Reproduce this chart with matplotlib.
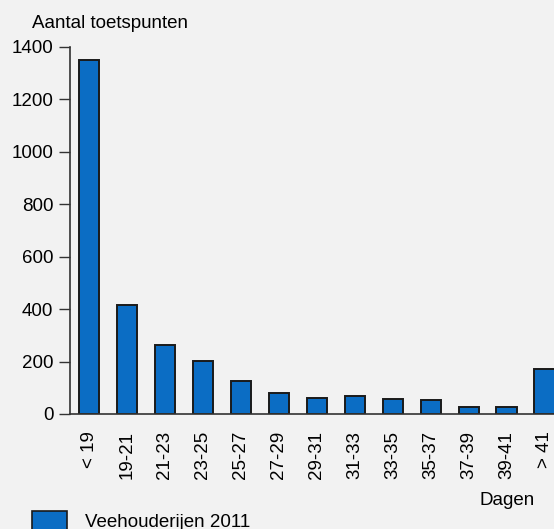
import matplotlib
matplotlib.use("Agg")
import matplotlib.pyplot as plt
from matplotlib.patches import Rectangle

categories = ["< 19", "19-21", "21-23", "23-25", "25-27", "27-29", "29-31",
              "31-33", "33-35", "35-37", "37-39", "39-41", "> 41"]
aantal = [1350, 415, 265, 203, 127, 81, 60, 70, 56, 53, 28, 26, 172]
y_ticks = [0, 200, 400, 600, 800, 1000, 1200, 1400]

plt.rcParams["font.family"] = ["Liberation Sans", "DejaVu Sans"]
bg = "#f2f2f2"
blauw = "#0b6dc4"
fs = 13.5

fig = plt.figure(figsize=(5.54, 5.29), dpi=100, facecolor=bg)
ax = fig.add_axes([0.1264, 0.2174, 0.8736, 0.6938], facecolor=bg)

x = range(len(categories))
ax.bar(x, aantal, width=0.53, color=blauw, edgecolor="#1a1a1a", linewidth=1.4, zorder=2)

ax.set_xlim(-0.5, 12.25)
ax.set_ylim(0, 1400)
ax.set_yticks(y_ticks)
ax.set_xticks(list(x))
ax.set_xticklabels(categories, rotation=90, fontsize=fs, va="top")

for s in ["top", "right"]:
    ax.spines[s].set_visible(False)
ax.spines["left"].set_color("#333333")
ax.spines["bottom"].set_color("#333333")
ax.spines["left"].set_linewidth(1.2)
ax.spines["bottom"].set_linewidth(1.2)

ax.tick_params(axis="y", length=8, width=1, color="#333333", pad=4, labelsize=fs)
ax.tick_params(axis="x", length=0, pad=12, labelsize=fs)

fig.text(0.058, 0.9565, "Aantal toetspunten", fontsize=fs, va="center", ha="left")
fig.text(0.9657, 0.0548, "Dagen", fontsize=fs, va="center", ha="right")

# legenda
fig.patches.append(Rectangle((32 / 554, -0.02), 35 / 554, 0.054, transform=fig.transFigure,
                             facecolor=blauw, edgecolor="#1a1a1a", linewidth=1.2))
fig.text(85 / 554, 0.012, "Veehouderijen 2011", fontsize=fs, va="center", ha="left")

fig.savefig("out.png", dpi=100, facecolor=bg)
